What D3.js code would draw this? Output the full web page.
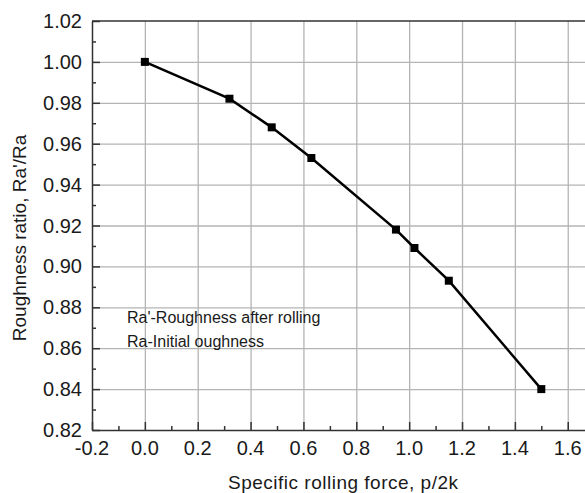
<!DOCTYPE html>
<html>
<head>
<meta charset="utf-8">
<script src="https://cdn.jsdelivr.net/npm/d3@7"></script>
<style>
  body { margin: 0; background: #fff; }
  svg { display: block; }
  text { font-family: "Liberation Sans", Arial, sans-serif; fill: #1a1a1a; }
</style>
</head>
<body>
<script>
var force = [0.00, 0.32, 0.48, 0.63, 0.95, 1.02, 1.15, 1.50];
var ratio = [1.000, 0.982, 0.968, 0.953, 0.918, 0.909, 0.893, 0.840];
var xTicks = [-0.2, 0.0, 0.2, 0.4, 0.6, 0.8, 1.0, 1.2, 1.4, 1.6];
var yTicks = [0.82, 0.84, 0.86, 0.88, 0.90, 0.92, 0.94, 0.96, 0.98, 1.00, 1.02];
var notes = ["Ra'-Roughness after rolling", "Ra-Initial oughness"];

function init() {
    var w = 585, h = 493;
    var left = 92, plotTop = 21, bottom = 430;

    var svg = d3.select("body").append("svg")
        .attr("width", w)
        .attr("height", h);

    var x = d3.scaleLinear().domain([-0.2, 1.7]).range([left, left + 1.9 * 264.3]);
    var y = d3.scaleLinear().domain([0.82, 1.02]).range([bottom, plotTop]);

    // grid lines drawn through the axis generator
    svg.append("g")
        .attr("transform", "translate(0," + bottom + ")")
        .call(d3.axisBottom(x).tickValues(xTicks.slice(1)).tickSize(plotTop - bottom).tickFormat(""))
        .call(function (g) { g.select(".domain").remove(); })
        .selectAll("line").attr("stroke", "#b4b4b4").attr("stroke-width", 1.3);
    svg.append("g")
        .attr("transform", "translate(" + left + ",0)")
        .call(d3.axisLeft(y).tickValues(yTicks.slice(1, -1)).tickSize(left - w).tickFormat(""))
        .call(function (g) { g.select(".domain").remove(); })
        .selectAll("line").attr("stroke", "#b4b4b4").attr("stroke-width", 1.3);

    // axes, ticks pointing inward
    var minorX = d3.range(-0.1, 1.7, 0.2);
    var minorY = d3.range(0.83, 1.02, 0.02);

    var xAxis = svg.append("g").attr("transform", "translate(0," + bottom + ")")
        .call(d3.axisTop(x).tickValues(xTicks).tickSize(8).tickSizeOuter(0).tickFormat(""));
    xAxis.append("g").call(d3.axisTop(x).tickValues(minorX).tickSize(4).tickFormat(""))
        .select(".domain").remove();
    xAxis.selectAll("line, path").attr("stroke", "#333").attr("stroke-width", 1.5);
    xAxis.selectAll(".lbl").data(xTicks).enter().append("text")
        .attr("x", function (d) { return x(d); })
        .attr("y", 25)
        .attr("text-anchor", "middle")
        .style("font-size", "20px")
        .text(function (d) { return d3.format(".1f")(d).replace("−", "-"); });

    var yAxis = svg.append("g").attr("transform", "translate(" + left + ",0)")
        .call(d3.axisRight(y).tickValues(yTicks).tickSize(8).tickSizeOuter(0).tickFormat(""));
    yAxis.append("g").call(d3.axisRight(y).tickValues(minorY).tickSize(4).tickFormat(""))
        .select(".domain").remove();
    yAxis.selectAll("line, path").attr("stroke", "#333").attr("stroke-width", 1.5);
    yAxis.selectAll(".lbl").data(yTicks).enter().append("text")
        .attr("x", -10)
        .attr("y", function (d) { return y(d) + 7; })
        .attr("text-anchor", "end")
        .style("font-size", "20px")
        .text(function (d) { return d3.format(".2f")(d); });

    // top frame line
    svg.append("line").attr("x1", left).attr("x2", w).attr("y1", plotTop).attr("y2", plotTop)
        .attr("stroke", "#333").attr("stroke-width", 1.5);

    // series
    var pts = force.map(function (d, i) { return [d, ratio[i]]; });
    svg.append("path").datum(pts)
        .attr("fill", "none").attr("stroke", "#000").attr("stroke-width", 2.5)
        .attr("d", d3.line().x(function (d) { return x(d[0]); }).y(function (d) { return y(d[1]); }));
    svg.selectAll(".pt").data(pts).enter().append("rect")
        .attr("x", function (d) { return x(d[0]) - 4; })
        .attr("y", function (d) { return y(d[1]) - 4; })
        .attr("width", 8).attr("height", 8)
        .attr("fill", "#000");

    // annotation
    svg.selectAll(".note").data(notes).enter().append("text")
        .attr("x", 127)
        .attr("y", function (d, i) { return 323 + i * 24; })
        .style("font-size", "16px")
        .text(function (d) { return d; });

    // axis titles
    svg.append("text")
        .attr("x", 343).attr("y", 489)
        .attr("text-anchor", "middle")
        .attr("textLength", 230)
        .style("font-size", "19px")
        .text("Specific rolling force, p/2k");
    svg.append("text")
        .attr("transform", "translate(26,238) rotate(-90)")
        .attr("text-anchor", "middle")
        .style("font-size", "19px")
        .text("Roughness ratio, Ra'/Ra");
}

window.onload = init;
</script>
</body>
</html>
